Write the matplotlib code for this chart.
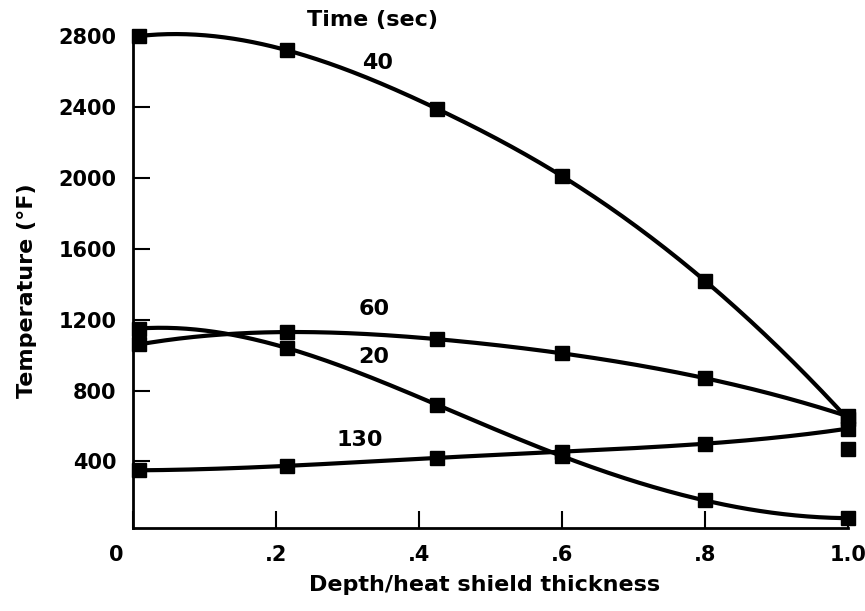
import numpy as np
import matplotlib
matplotlib.use("Agg")
import matplotlib.pyplot as plt
from matplotlib.transforms import ScaledTranslation

# depth / heat shield thickness where temperatures were sampled
depth = [0.008, 0.215, 0.425, 0.6, 0.8, 1.0]

# temperature (deg F) for each time
temp_20 = [1150, 1040, 720, 430, 180, 80]
temp_40 = [2800, 2720, 2390, 2010, 1420, 640]
temp_60 = [1060, 1130, 1090, 1010, 870, 655]
temp_130 = [350, 375, 420, 455, 500, 585]

# lone point at the back face that sits off the 130 s curve
extra_x = [1.0]
extra_y = [470]

curve_labels = ["20", "40", "60", "130"]
label_pos = {"20": (0.337, 990), "40": (0.342, 2650), "60": (0.337, 1260), "130": (0.317, 520)}

xticks = [0, 0.2, 0.4, 0.6, 0.8, 1.0]
xtick_labels = ["0", ".2", ".4", ".6", ".8", "1.0"]
yticks = [400, 800, 1200, 1600, 2000, 2400, 2800]


def smooth(x, y, n=300):
	# not-a-knot cubic spline through the points, just for drawing
	x = np.asarray(x, float)
	y = np.asarray(y, float)
	h = np.diff(x)
	m = len(x)
	A = np.zeros((m, m))
	r = np.zeros(m)
	A[0, 0], A[0, 1], A[0, 2] = h[1], -(h[0] + h[1]), h[0]
	A[-1, -3], A[-1, -2], A[-1, -1] = h[-1], -(h[-2] + h[-1]), h[-2]
	for i in range(1, m - 1):
		A[i, i - 1] = h[i - 1]
		A[i, i] = 2 * (h[i - 1] + h[i])
		A[i, i + 1] = h[i]
		r[i] = 6 * ((y[i + 1] - y[i]) / h[i] - (y[i] - y[i - 1]) / h[i - 1])
	M = np.linalg.solve(A, r)
	xs = np.linspace(x[0], x[-1], n)
	k = np.clip(np.searchsorted(x, xs) - 1, 0, m - 2)
	x0, x1, hk = x[k], x[k + 1], h[k]
	ys = (M[k] * (x1 - xs) ** 3 / (6 * hk) + M[k + 1] * (xs - x0) ** 3 / (6 * hk)
		+ (y[k] / hk - M[k] * hk / 6) * (x1 - xs) + (y[k + 1] / hk - M[k + 1] * hk / 6) * (xs - x0))
	return xs, ys


plt.rcParams['font.family'] = ['DejaVu Sans']
plt.rcParams['font.weight'] = 'bold'
plt.rcParams['axes.labelweight'] = 'bold'

fig = plt.figure(figsize=(8.65, 6.11), dpi=100)
ax = fig.add_axes([0.154, 0.136, 0.826, 0.805])

for ys in [temp_20, temp_40, temp_60, temp_130]:
	sx, sy = smooth(depth, ys)
	ax.plot(sx, sy, color='black', lw=3, clip_on=False, zorder=2)
	ax.plot(depth, ys, 's', color='black', ms=10, clip_on=False, zorder=3)
ax.plot(extra_x, extra_y, 's', color='black', ms=10, clip_on=False, zorder=3)

for lab in curve_labels:
	px, py = label_pos[lab]
	ax.text(px, py, lab, ha='center', va='center', fontsize=16, fontweight='bold')
ax.text(0.335, 2890, "Time (sec)", ha='center', va='center', fontsize=16, fontweight='bold')

ax.set_xlim(0, 1.0)
ax.set_ylim(25, 2800)
ax.set_xticks(xticks)
ax.set_xticklabels(xtick_labels)
ax.set_yticks(yticks)
ax.tick_params(direction='in', length=12, width=1.5, pad=12, labelsize=15)
for lbl in ax.get_xticklabels()[:1]:
	lbl.set_transform(lbl.get_transform() + ScaledTranslation(-17 / 100, 0, fig.dpi_scale_trans))

for side in ['top', 'right']:
	ax.spines[side].set_visible(False)
for side in ['left', 'bottom']:
	ax.spines[side].set_linewidth(2)

ax.set_xlabel("Depth/heat shield thickness", fontsize=16)
ax.set_ylabel("Temperature (°F)", fontsize=16)
ax.xaxis.set_label_coords(0.492, -0.095)
ax.yaxis.set_label_coords(-0.134, 0.482)

fig.savefig("out.png", dpi=100)
